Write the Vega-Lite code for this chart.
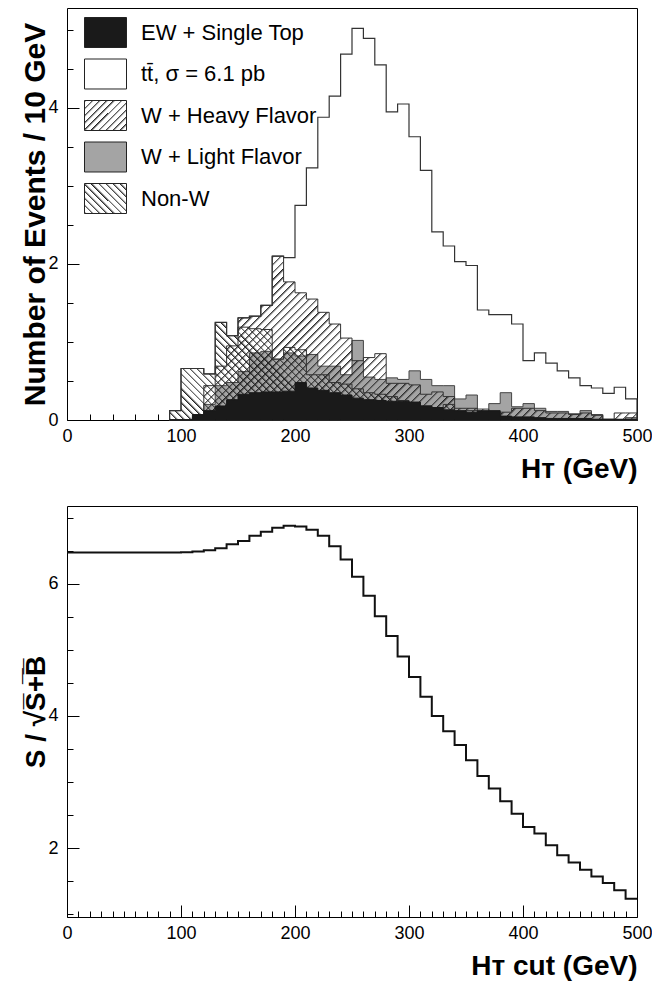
{
  "$schema": "https://vega.github.io/schema/vega-lite/v6.json",
  "background": "white",
  "padding": {"left": 20, "top": 7, "right": 0, "bottom": 0},
  "params": [
    {
      "name": "stripes",
      "value": [
        {"offset":0,"color":"#222"},{"offset":0.005,"color":"#2220"},{"offset":0.0125,"color":"#2220"},{"offset":0.0125,"color":"#222"},{"offset":0.0175,"color":"#2220"},{"offset":0.025,"color":"#2220"},{"offset":0.025,"color":"#222"},{"offset":0.03,"color":"#2220"},{"offset":0.0375,"color":"#2220"},{"offset":0.0375,"color":"#222"},{"offset":0.0425,"color":"#2220"},{"offset":0.05,"color":"#2220"},{"offset":0.05,"color":"#222"},{"offset":0.055,"color":"#2220"},{"offset":0.0625,"color":"#2220"},{"offset":0.0625,"color":"#222"},{"offset":0.0675,"color":"#2220"},{"offset":0.075,"color":"#2220"},{"offset":0.075,"color":"#222"},{"offset":0.08,"color":"#2220"},{"offset":0.0875,"color":"#2220"},{"offset":0.0875,"color":"#222"},{"offset":0.0925,"color":"#2220"},{"offset":0.1,"color":"#2220"},
        {"offset":0.1,"color":"#222"},{"offset":0.105,"color":"#2220"},{"offset":0.1125,"color":"#2220"},{"offset":0.1125,"color":"#222"},{"offset":0.1175,"color":"#2220"},{"offset":0.125,"color":"#2220"},{"offset":0.125,"color":"#222"},{"offset":0.13,"color":"#2220"},{"offset":0.1375,"color":"#2220"},{"offset":0.1375,"color":"#222"},{"offset":0.1425,"color":"#2220"},{"offset":0.15,"color":"#2220"},{"offset":0.15,"color":"#222"},{"offset":0.155,"color":"#2220"},{"offset":0.1625,"color":"#2220"},{"offset":0.1625,"color":"#222"},{"offset":0.1675,"color":"#2220"},{"offset":0.175,"color":"#2220"},{"offset":0.175,"color":"#222"},{"offset":0.18,"color":"#2220"},{"offset":0.1875,"color":"#2220"},{"offset":0.1875,"color":"#222"},{"offset":0.1925,"color":"#2220"},{"offset":0.2,"color":"#2220"},
        {"offset":0.2,"color":"#222"},{"offset":0.205,"color":"#2220"},{"offset":0.2125,"color":"#2220"},{"offset":0.2125,"color":"#222"},{"offset":0.2175,"color":"#2220"},{"offset":0.225,"color":"#2220"},{"offset":0.225,"color":"#222"},{"offset":0.23,"color":"#2220"},{"offset":0.2375,"color":"#2220"},{"offset":0.2375,"color":"#222"},{"offset":0.2425,"color":"#2220"},{"offset":0.25,"color":"#2220"},{"offset":0.25,"color":"#222"},{"offset":0.255,"color":"#2220"},{"offset":0.2625,"color":"#2220"},{"offset":0.2625,"color":"#222"},{"offset":0.2675,"color":"#2220"},{"offset":0.275,"color":"#2220"},{"offset":0.275,"color":"#222"},{"offset":0.28,"color":"#2220"},{"offset":0.2875,"color":"#2220"},{"offset":0.2875,"color":"#222"},{"offset":0.2925,"color":"#2220"},{"offset":0.3,"color":"#2220"},
        {"offset":0.3,"color":"#222"},{"offset":0.305,"color":"#2220"},{"offset":0.3125,"color":"#2220"},{"offset":0.3125,"color":"#222"},{"offset":0.3175,"color":"#2220"},{"offset":0.325,"color":"#2220"},{"offset":0.325,"color":"#222"},{"offset":0.33,"color":"#2220"},{"offset":0.3375,"color":"#2220"},{"offset":0.3375,"color":"#222"},{"offset":0.3425,"color":"#2220"},{"offset":0.35,"color":"#2220"},{"offset":0.35,"color":"#222"},{"offset":0.355,"color":"#2220"},{"offset":0.3625,"color":"#2220"},{"offset":0.3625,"color":"#222"},{"offset":0.3675,"color":"#2220"},{"offset":0.375,"color":"#2220"},{"offset":0.375,"color":"#222"},{"offset":0.38,"color":"#2220"},{"offset":0.3875,"color":"#2220"},{"offset":0.3875,"color":"#222"},{"offset":0.3925,"color":"#2220"},{"offset":0.4,"color":"#2220"},
        {"offset":0.4,"color":"#222"},{"offset":0.405,"color":"#2220"},{"offset":0.4125,"color":"#2220"},{"offset":0.4125,"color":"#222"},{"offset":0.4175,"color":"#2220"},{"offset":0.425,"color":"#2220"},{"offset":0.425,"color":"#222"},{"offset":0.43,"color":"#2220"},{"offset":0.4375,"color":"#2220"},{"offset":0.4375,"color":"#222"},{"offset":0.4425,"color":"#2220"},{"offset":0.45,"color":"#2220"},{"offset":0.45,"color":"#222"},{"offset":0.455,"color":"#2220"},{"offset":0.4625,"color":"#2220"},{"offset":0.4625,"color":"#222"},{"offset":0.4675,"color":"#2220"},{"offset":0.475,"color":"#2220"},{"offset":0.475,"color":"#222"},{"offset":0.48,"color":"#2220"},{"offset":0.4875,"color":"#2220"},{"offset":0.4875,"color":"#222"},{"offset":0.4925,"color":"#2220"},{"offset":0.5,"color":"#2220"},
        {"offset":0.5,"color":"#222"},{"offset":0.505,"color":"#2220"},{"offset":0.5125,"color":"#2220"},{"offset":0.5125,"color":"#222"},{"offset":0.5175,"color":"#2220"},{"offset":0.525,"color":"#2220"},{"offset":0.525,"color":"#222"},{"offset":0.53,"color":"#2220"},{"offset":0.5375,"color":"#2220"},{"offset":0.5375,"color":"#222"},{"offset":0.5425,"color":"#2220"},{"offset":0.55,"color":"#2220"},{"offset":0.55,"color":"#222"},{"offset":0.555,"color":"#2220"},{"offset":0.5625,"color":"#2220"},{"offset":0.5625,"color":"#222"},{"offset":0.5675,"color":"#2220"},{"offset":0.575,"color":"#2220"},{"offset":0.575,"color":"#222"},{"offset":0.58,"color":"#2220"},{"offset":0.5875,"color":"#2220"},{"offset":0.5875,"color":"#222"},{"offset":0.5925,"color":"#2220"},{"offset":0.6,"color":"#2220"},
        {"offset":0.6,"color":"#222"},{"offset":0.605,"color":"#2220"},{"offset":0.6125,"color":"#2220"},{"offset":0.6125,"color":"#222"},{"offset":0.6175,"color":"#2220"},{"offset":0.625,"color":"#2220"},{"offset":0.625,"color":"#222"},{"offset":0.63,"color":"#2220"},{"offset":0.6375,"color":"#2220"},{"offset":0.6375,"color":"#222"},{"offset":0.6425,"color":"#2220"},{"offset":0.65,"color":"#2220"},{"offset":0.65,"color":"#222"},{"offset":0.655,"color":"#2220"},{"offset":0.6625,"color":"#2220"},{"offset":0.6625,"color":"#222"},{"offset":0.6675,"color":"#2220"},{"offset":0.675,"color":"#2220"},{"offset":0.675,"color":"#222"},{"offset":0.68,"color":"#2220"},{"offset":0.6875,"color":"#2220"},{"offset":0.6875,"color":"#222"},{"offset":0.6925,"color":"#2220"},{"offset":0.7,"color":"#2220"},
        {"offset":0.7,"color":"#222"},{"offset":0.705,"color":"#2220"},{"offset":0.7125,"color":"#2220"},{"offset":0.7125,"color":"#222"},{"offset":0.7175,"color":"#2220"},{"offset":0.725,"color":"#2220"},{"offset":0.725,"color":"#222"},{"offset":0.73,"color":"#2220"},{"offset":0.7375,"color":"#2220"},{"offset":0.7375,"color":"#222"},{"offset":0.7425,"color":"#2220"},{"offset":0.75,"color":"#2220"},{"offset":0.75,"color":"#222"},{"offset":0.755,"color":"#2220"},{"offset":0.7625,"color":"#2220"},{"offset":0.7625,"color":"#222"},{"offset":0.7675,"color":"#2220"},{"offset":0.775,"color":"#2220"},{"offset":0.775,"color":"#222"},{"offset":0.78,"color":"#2220"},{"offset":0.7875,"color":"#2220"},{"offset":0.7875,"color":"#222"},{"offset":0.7925,"color":"#2220"},{"offset":0.8,"color":"#2220"},
        {"offset":0.8,"color":"#222"},{"offset":0.805,"color":"#2220"},{"offset":0.8125,"color":"#2220"},{"offset":0.8125,"color":"#222"},{"offset":0.8175,"color":"#2220"},{"offset":0.825,"color":"#2220"},{"offset":0.825,"color":"#222"},{"offset":0.83,"color":"#2220"},{"offset":0.8375,"color":"#2220"},{"offset":0.8375,"color":"#222"},{"offset":0.8425,"color":"#2220"},{"offset":0.85,"color":"#2220"},{"offset":0.85,"color":"#222"},{"offset":0.855,"color":"#2220"},{"offset":0.8625,"color":"#2220"},{"offset":0.8625,"color":"#222"},{"offset":0.8675,"color":"#2220"},{"offset":0.875,"color":"#2220"},{"offset":0.875,"color":"#222"},{"offset":0.88,"color":"#2220"},{"offset":0.8875,"color":"#2220"},{"offset":0.8875,"color":"#222"},{"offset":0.8925,"color":"#2220"},{"offset":0.9,"color":"#2220"},
        {"offset":0.9,"color":"#222"},{"offset":0.905,"color":"#2220"},{"offset":0.9125,"color":"#2220"},{"offset":0.9125,"color":"#222"},{"offset":0.9175,"color":"#2220"},{"offset":0.925,"color":"#2220"},{"offset":0.925,"color":"#222"},{"offset":0.93,"color":"#2220"},{"offset":0.9375,"color":"#2220"},{"offset":0.9375,"color":"#222"},{"offset":0.9425,"color":"#2220"},{"offset":0.95,"color":"#2220"},{"offset":0.95,"color":"#222"},{"offset":0.955,"color":"#2220"},{"offset":0.9625,"color":"#2220"},{"offset":0.9625,"color":"#222"},{"offset":0.9675,"color":"#2220"},{"offset":0.975,"color":"#2220"},{"offset":0.975,"color":"#222"},{"offset":0.98,"color":"#2220"},{"offset":0.9875,"color":"#2220"},{"offset":0.9875,"color":"#222"},{"offset":0.9925,"color":"#2220"},{"offset":1,"color":"#2220"}
      ]
    },
    {
      "name": "keyStripes",
      "value": [
        {"offset":0,"color":"#222"},{"offset":0.04,"color":"#2220"},{"offset":0.1,"color":"#2220"},{"offset":0.1,"color":"#222"},{"offset":0.14,"color":"#2220"},{"offset":0.2,"color":"#2220"},{"offset":0.2,"color":"#222"},{"offset":0.24,"color":"#2220"},{"offset":0.3,"color":"#2220"},{"offset":0.3,"color":"#222"},{"offset":0.34,"color":"#2220"},{"offset":0.4,"color":"#2220"},{"offset":0.4,"color":"#222"},{"offset":0.44,"color":"#2220"},{"offset":0.5,"color":"#2220"},
        {"offset":0.5,"color":"#222"},{"offset":0.54,"color":"#2220"},{"offset":0.6,"color":"#2220"},{"offset":0.6,"color":"#222"},{"offset":0.64,"color":"#2220"},{"offset":0.7,"color":"#2220"},{"offset":0.7,"color":"#222"},{"offset":0.74,"color":"#2220"},{"offset":0.8,"color":"#2220"},{"offset":0.8,"color":"#222"},{"offset":0.84,"color":"#2220"},{"offset":0.9,"color":"#2220"},{"offset":0.9,"color":"#222"},{"offset":0.94,"color":"#2220"},{"offset":1,"color":"#2220"}
      ]
    }
  ],
  "spacing": 21,
  "resolve": {"scale": {"fill": "independent"}, "legend": {"fill": "independent"}},
  "vconcat": [
    {
      "width": 570,
      "height": 412,
      "data": {
        "values": [
          {"g": 90, "tot": 0.12, "hf": 0, "nw": 0.12, "lf": 0, "ew": 0},
          {"g": 100, "tot": 0.66, "hf": 0, "nw": 0.66, "lf": 0, "ew": 0},
          {"g": 110, "tot": 0.66, "hf": 0, "nw": 0.66, "lf": 0.04, "ew": 0.07},
          {"g": 120, "tot": 0.59, "hf": 0.44, "nw": 0.59, "lf": 0.2, "ew": 0.12},
          {"g": 130, "tot": 1.25, "hf": 0.69, "nw": 1.25, "lf": 0.44, "ew": 0.18},
          {"g": 140, "tot": 1.08, "hf": 0.95, "nw": 1.08, "lf": 0.48, "ew": 0.26},
          {"g": 150, "tot": 1.31, "hf": 1.31, "nw": 1.19, "lf": 0.62, "ew": 0.33},
          {"g": 160, "tot": 1.33, "hf": 1.33, "nw": 1.17, "lf": 0.86, "ew": 0.35},
          {"g": 170, "tot": 1.47, "hf": 1.47, "nw": 1.16, "lf": 0.88, "ew": 0.36},
          {"g": 180, "tot": 2.1, "hf": 2.1, "nw": 0.78, "lf": 0.78, "ew": 0.36},
          {"g": 190, "tot": 2.08, "hf": 1.77, "nw": 0.93, "lf": 0.86, "ew": 0.37},
          {"g": 200, "tot": 2.75, "hf": 1.63, "nw": 0.9, "lf": 0.82, "ew": 0.48},
          {"g": 210, "tot": 3.23, "hf": 1.55, "nw": 0.58, "lf": 0.84, "ew": 0.41},
          {"g": 220, "tot": 3.88, "hf": 1.38, "nw": 0.58, "lf": 0.69, "ew": 0.38},
          {"g": 230, "tot": 4.15, "hf": 1.23, "nw": 0.48, "lf": 0.69, "ew": 0.35},
          {"g": 240, "tot": 4.69, "hf": 1.05, "nw": 0.46, "lf": 0.58, "ew": 0.32},
          {"g": 250, "tot": 5.02, "hf": 0.76, "nw": 0.4, "lf": 1.02, "ew": 0.28},
          {"g": 260, "tot": 4.89, "hf": 0.8, "nw": 0.35, "lf": 0.55, "ew": 0.26},
          {"g": 270, "tot": 4.55, "hf": 0.85, "nw": 0.33, "lf": 0.52, "ew": 0.25},
          {"g": 280, "tot": 3.95, "hf": 0.47, "nw": 0.3, "lf": 0.54, "ew": 0.24},
          {"g": 290, "tot": 4.05, "hf": 0.47, "nw": 0.25, "lf": 0.52, "ew": 0.24},
          {"g": 300, "tot": 3.63, "hf": 0.45, "nw": 0.22, "lf": 0.63, "ew": 0.23},
          {"g": 310, "tot": 3.2, "hf": 0.33, "nw": 0.18, "lf": 0.52, "ew": 0.18},
          {"g": 320, "tot": 2.41, "hf": 0.36, "nw": 0.15, "lf": 0.44, "ew": 0.16},
          {"g": 330, "tot": 2.23, "hf": 0.3, "nw": 0.2, "lf": 0.44, "ew": 0.13},
          {"g": 340, "tot": 2.03, "hf": 0.15, "nw": 0.1, "lf": 0.27, "ew": 0.12},
          {"g": 350, "tot": 1.98, "hf": 0.15, "nw": 0.12, "lf": 0.32, "ew": 0.1},
          {"g": 360, "tot": 1.41, "hf": 0.14, "nw": 0.05, "lf": 0.03, "ew": 0.12},
          {"g": 370, "tot": 1.35, "hf": 0.05, "nw": 0.02, "lf": 0.21, "ew": 0.12},
          {"g": 380, "tot": 1.35, "hf": 0.1, "nw": 0.02, "lf": 0.35, "ew": 0.05},
          {"g": 390, "tot": 1.23, "hf": 0.15, "nw": 0.02, "lf": 0.17, "ew": 0.04},
          {"g": 400, "tot": 0.76, "hf": 0.15, "nw": 0.02, "lf": 0.21, "ew": 0.04},
          {"g": 410, "tot": 0.86, "hf": 0.12, "nw": 0.02, "lf": 0.15, "ew": 0.03},
          {"g": 420, "tot": 0.73, "hf": 0.09, "nw": 0, "lf": 0.11, "ew": 0.02},
          {"g": 430, "tot": 0.63, "hf": 0.09, "nw": 0.01, "lf": 0.11, "ew": 0.02},
          {"g": 440, "tot": 0.54, "hf": 0.07, "nw": 0, "lf": 0.08, "ew": 0.02},
          {"g": 450, "tot": 0.44, "hf": 0.09, "nw": 0, "lf": 0.12, "ew": 0.02},
          {"g": 460, "tot": 0.41, "hf": 0.06, "nw": 0, "lf": 0.07, "ew": 0.01},
          {"g": 470, "tot": 0.34, "hf": 0, "nw": 0, "lf": 0.01, "ew": 0.01},
          {"g": 480, "tot": 0.42, "hf": 0.09, "nw": 0, "lf": 0, "ew": 0.01},
          {"g": 490, "tot": 0.27, "hf": 0.09, "nw": 0, "lf": 0.03, "ew": 0.01},
          {"g": 500, "tot": 0.27, "hf": 0.09, "nw": 0, "lf": 0.03, "ew": 0.01}
        ]
      },
      "resolve": {"axis": {"x": "independent", "y": "independent"}},
      "layer": [
        {
          "mark": {"type": "area", "interpolate": "step-after", "stroke": "#333", "strokeWidth": 1.2, "opacity": 1},
          "encoding": {
            "x": {
              "field": "g",
              "type": "quantitative",
              "scale": {"domain": [0, 500], "nice": false},
              "title": "Hᴛ (GeV)",
              "axis": {
                "orient": "bottom",
                "values": [0, 100, 200, 300, 400, 500],
                "format": "d",
                "tickSize": -12,
                "labelPadding": 19,
                "titleAnchor": "end",
                "titlePadding": 10
              }
            },
            "y": {
              "field": "tot",
              "type": "quantitative",
              "stack": null,
              "scale": {"domain": [0, 5.28], "nice": false},
              "title": "Number of Events / 10 GeV",
              "axis": {
                "orient": "left",
                "values": [0, 2, 4],
                "format": "d",
                "tickSize": -12,
                "labelPadding": 21,
                "titlePadding": -3,
                "titleFontSize": 30
              }
            },
            "fill": {
              "datum": "tt̄, σ = 6.1 pb",
              "scale": {
                "domain": ["EW + Single Top", "tt̄, σ = 6.1 pb", "W + Heavy Flavor", "W + Light Flavor", "Non-W"],
                "range": [
                  "#1a1a1a",
                  "white",
                  {"expr": "{gradient: 'linear', x1: 0, y1: 0, x2: 1.1351, y2: 0.8108, stops: keyStripes}"},
                  "#a4a4a4",
                  {"expr": "{gradient: 'linear', x1: 0, y1: 1, x2: 1.1351, y2: 0.1892, stops: keyStripes}"}
                ]
              },
              "legend": {
                "orient": "none",
                "legendX": 17,
                "legendY": 3,
                "title": null,
                "padding": 0,
                "symbolType": "M-1,-0.714H1V0.714H-1Z",
                "symbolSize": 1764,
                "symbolStrokeColor": "#222",
                "symbolStrokeWidth": 1,
                "symbolOpacity": 1,
                "labelFontSize": 22,
                "labelOffset": 14,
                "labelLimit": 400,
                "rowPadding": 2.5
              }
            }
          }
        },
        {
          "mark": {"type": "area", "interpolate": "step-after", "fill": "#a4a4a4", "stroke": "#444", "strokeWidth": 1, "opacity": 1},
          "encoding": {
            "x": {
              "field": "g",
              "type": "quantitative",
              "scale": {"domain": [0, 500], "nice": false},
              "title": null,
              "axis": {
                "orient": "bottom",
                "values": [20, 40, 60, 80, 120, 140, 160, 180, 220, 240, 260, 280, 320, 340, 360, 380, 420, 440, 460, 480],
                "tickSize": -6,
                "labels": false
              }
            },
            "y": {
              "field": "lf",
              "type": "quantitative",
              "stack": null,
              "scale": {"domain": [0, 5.28], "nice": false},
              "title": null,
              "axis": {
                "orient": "left",
                "values": [0.5, 1, 1.5, 2.5, 3, 3.5, 4.5, 5],
                "tickSize": -6,
                "labels": false
              }
            }
          }
        },
        {
          "mark": {
            "type": "area",
            "interpolate": "step-after",
            "fill": {"expr": "{gradient: 'linear', x1: 0, y1: 0, x2: 1.2027, y2: 0.4217, stops: stripes}"},
            "stroke": "#333",
            "strokeWidth": 1,
            "opacity": 1
          },
          "encoding": {
            "x": {"field": "g", "type": "quantitative", "scale": {"domain": [0, 500], "nice": false}, "axis": null},
            "y": {"field": "hf", "type": "quantitative", "stack": null, "scale": {"domain": [0, 5.28], "nice": false}, "axis": null}
          }
        },
        {
          "mark": {
            "type": "area",
            "interpolate": "step-after",
            "fill": {"expr": "{gradient: 'linear', x1: 0, y1: 1, x2: 1.1583, y2: 0.7584, stops: stripes}"},
            "stroke": "#333",
            "strokeWidth": 1,
            "opacity": 1
          },
          "encoding": {
            "x": {"field": "g", "type": "quantitative", "scale": {"domain": [0, 500], "nice": false}, "axis": null},
            "y": {"field": "nw", "type": "quantitative", "stack": null, "scale": {"domain": [0, 5.28], "nice": false}, "axis": null}
          }
        },
        {
          "mark": {"type": "area", "interpolate": "step-after", "fill": "#1a1a1a", "stroke": "#1a1a1a", "strokeWidth": 1, "opacity": 1},
          "encoding": {
            "x": {"field": "g", "type": "quantitative", "scale": {"domain": [0, 500], "nice": false}, "axis": null},
            "y": {"field": "ew", "type": "quantitative", "stack": null, "scale": {"domain": [0, 5.28], "nice": false}, "axis": null}
          }
        }
      ]
    },
    {
      "width": 570,
      "height": 411,
      "data": {
        "values": [
          {"g": 0, "s": 6.475}, {"g": 10, "s": 6.475}, {"g": 20, "s": 6.475}, {"g": 30, "s": 6.475},
          {"g": 40, "s": 6.475}, {"g": 50, "s": 6.475}, {"g": 60, "s": 6.475}, {"g": 70, "s": 6.475},
          {"g": 80, "s": 6.475}, {"g": 90, "s": 6.475}, {"g": 100, "s": 6.48}, {"g": 110, "s": 6.49},
          {"g": 120, "s": 6.51}, {"g": 130, "s": 6.54}, {"g": 140, "s": 6.6}, {"g": 150, "s": 6.65},
          {"g": 160, "s": 6.73}, {"g": 170, "s": 6.79}, {"g": 180, "s": 6.85}, {"g": 190, "s": 6.88},
          {"g": 200, "s": 6.87}, {"g": 210, "s": 6.82}, {"g": 220, "s": 6.73}, {"g": 230, "s": 6.57},
          {"g": 240, "s": 6.37}, {"g": 250, "s": 6.11}, {"g": 260, "s": 5.82}, {"g": 270, "s": 5.51},
          {"g": 280, "s": 5.21}, {"g": 290, "s": 4.9}, {"g": 300, "s": 4.59}, {"g": 310, "s": 4.29},
          {"g": 320, "s": 4.0}, {"g": 330, "s": 3.77}, {"g": 340, "s": 3.56}, {"g": 350, "s": 3.33},
          {"g": 360, "s": 3.09}, {"g": 370, "s": 2.9}, {"g": 380, "s": 2.71}, {"g": 390, "s": 2.52},
          {"g": 400, "s": 2.32}, {"g": 410, "s": 2.22}, {"g": 420, "s": 2.04}, {"g": 430, "s": 1.89},
          {"g": 440, "s": 1.78}, {"g": 450, "s": 1.67}, {"g": 460, "s": 1.57}, {"g": 470, "s": 1.47},
          {"g": 480, "s": 1.36}, {"g": 490, "s": 1.23}, {"g": 500, "s": 1.23}
        ]
      },
      "resolve": {"axis": {"x": "independent", "y": "independent"}},
      "layer": [
        {
          "mark": {"type": "line", "interpolate": "step-after", "color": "#111", "strokeWidth": 2},
          "encoding": {
            "x": {
              "field": "g",
              "type": "quantitative",
              "scale": {"domain": [0, 500], "nice": false},
              "title": "Hᴛ cut (GeV)",
              "axis": {
                "orient": "bottom",
                "values": [0, 100, 200, 300, 400, 500],
                "format": "d",
                "tickSize": -12,
                "labelPadding": 19,
                "titleAnchor": "end",
                "titlePadding": 10
              }
            },
            "y": {
              "field": "s",
              "type": "quantitative",
              "scale": {"domain": [0.955, 7.18], "nice": false, "zero": false},
              "title": "S / √S̅+̅B̅",
              "axis": {
                "orient": "left",
                "values": [2, 4, 6],
                "format": "d",
                "tickSize": -12,
                "labelPadding": 21,
                "titlePadding": -3
              }
            }
          }
        },
        {
          "mark": {"type": "line", "interpolate": "step-after", "color": "#111", "strokeWidth": 2, "strokeOpacity": 0},
          "encoding": {
            "x": {
              "field": "g",
              "type": "quantitative",
              "scale": {"domain": [0, 500], "nice": false},
              "title": null,
              "axis": {
                "orient": "bottom",
                "values": [10, 20, 30, 40, 50, 60, 70, 80, 90, 110, 120, 130, 140, 150, 160, 170, 180, 190, 210, 220, 230, 240, 250, 260, 270, 280, 290, 310, 320, 330, 340, 350, 360, 370, 380, 390, 410, 420, 430, 440, 450, 460, 470, 480, 490],
                "tickSize": -6,
                "labels": false
              }
            },
            "y": {
              "field": "s",
              "type": "quantitative",
              "scale": {"domain": [0.955, 7.18], "nice": false, "zero": false},
              "title": null,
              "axis": {
                "orient": "left",
                "values": [1, 1.5, 2.5, 3, 3.5, 4.5, 5, 5.5, 6.5, 7],
                "tickSize": -6,
                "labels": false
              }
            }
          }
        }
      ]
    }
  ],
  "config": {
    "font": "Liberation Sans",
    "view": {"stroke": "#000", "strokeWidth": 1},
    "axis": {
      "domain": false,
      "grid": false,
      "zindex": 1,
      "labelFontSize": 18,
      "labelColor": "#000",
      "labelFlush": false,
      "labelOverlap": false,
      "tickColor": "#000",
      "tickWidth": 1,
      "titleFontSize": 28,
      "titleFontWeight": "bold",
      "titleColor": "#000"
    },
    "legend": {"labelColor": "#000", "labelFont": "Liberation Sans"}
  }
}
